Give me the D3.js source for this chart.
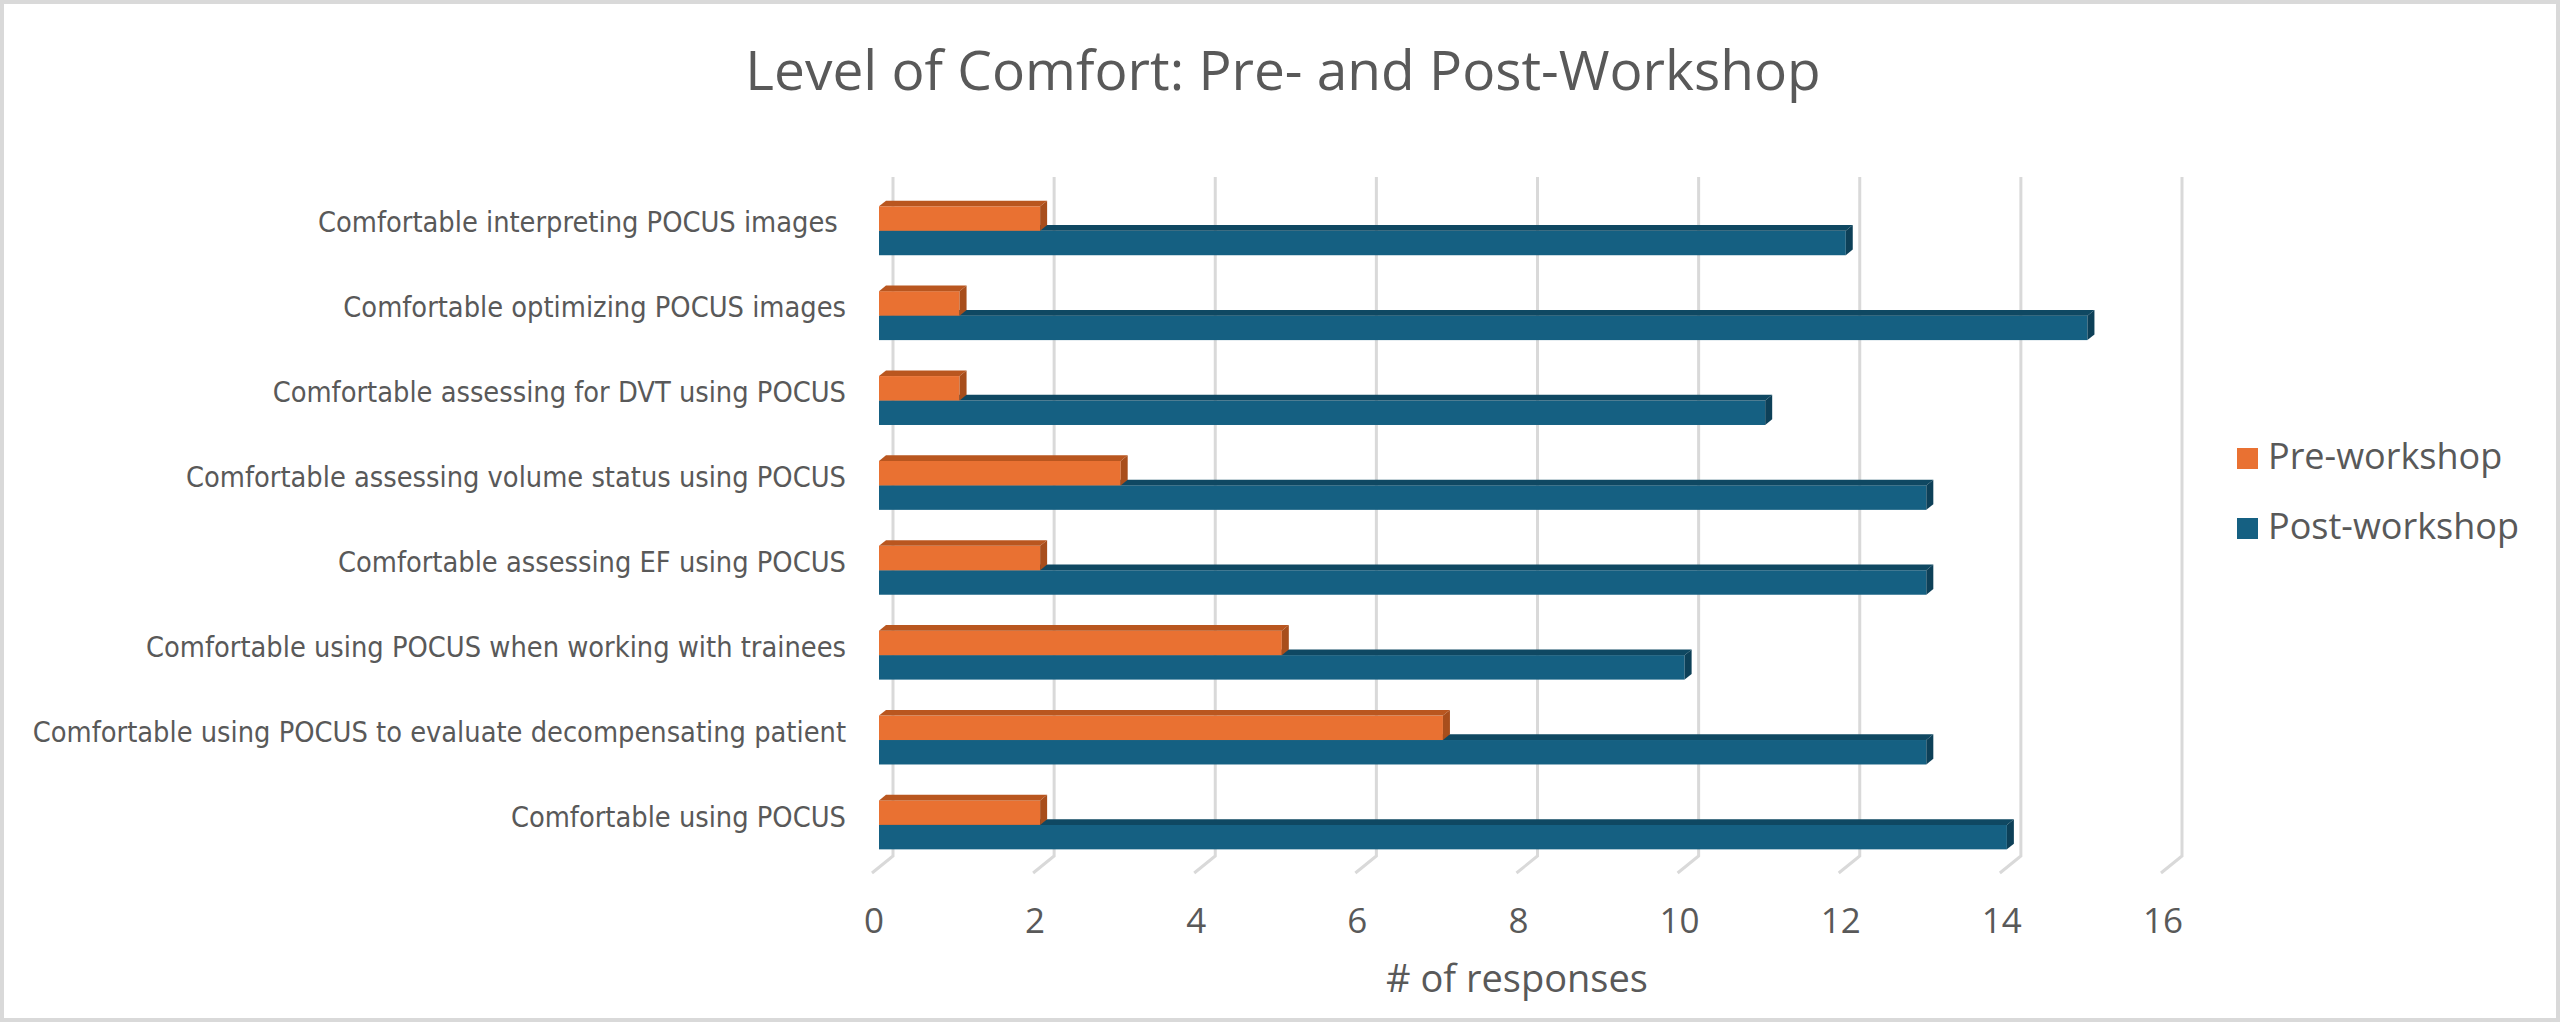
<!DOCTYPE html>
<html>
<head>
<meta charset="utf-8">
<script src="https://cdn.jsdelivr.net/npm/d3@7"></script>
<style>
  html, body { margin: 0; padding: 0; background: #fff; }
  svg { display: block; }
</style>
</head>
<body>
<svg id="chart" width="2560" height="1022"></svg>
<script>
const categories = [
  "Comfortable interpreting POCUS images ",
  "Comfortable optimizing POCUS images",
  "Comfortable assessing for DVT using POCUS",
  "Comfortable assessing volume status using POCUS",
  "Comfortable assessing EF using POCUS",
  "Comfortable using POCUS when working with trainees",
  "Comfortable using POCUS to evaluate decompensating patient",
  "Comfortable using POCUS"
];
const seriesNames = ["Pre-workshop", "Post-workshop"];
const preValues = [2, 1, 1, 3, 2, 5, 7, 2];
const postValues = [12, 15, 11, 13, 13, 10, 13, 14];
const tickValues = [0, 2, 4, 6, 8, 10, 12, 14, 16];

const title = "Level of Comfort: Pre- and Post-Workshop";
const xTitle = "# of responses";

const svg = d3.select("#chart");
const W = 2560, H = 1022;
const textColor = "#595959";
const gridColor = "#d9d9d9";
const colors = {
  "Pre-workshop":  { front: "#E97132", top: "#B9561F", side: "#A84E1C" },
  "Post-workshop": { front: "#156082", top: "#0F4862", side: "#0D4058" }
};

// Back wall geometry
const wallLeft = 893, wallRight = 2182, wallTop = 177, wallBottom = 856;
// depth vector from back wall to floor front
const depth = { dx: -21, dy: 17 };

const x = d3.scaleLinear().domain([0, 16]).range([wallLeft, wallRight]);
const y0 = d3.scaleBand().domain(categories).range([wallTop, wallBottom]).padding(0);
const y1 = d3.scaleBand().domain(seriesNames).range([0, y0.bandwidth()]).paddingInner(0).paddingOuter(0.735);

// background + border
svg.append("rect").attr("x", 0).attr("y", 0).attr("width", W).attr("height", H).attr("fill", "#fff");
svg.append("rect").attr("x", 2).attr("y", 2).attr("width", W - 4).attr("height", H - 4)
  .attr("fill", "none").attr("stroke", gridColor).attr("stroke-width", 4);

// title
svg.append("text").attr("x", 1283).attr("y", 90).attr("text-anchor", "middle")
  .attr("font-family", "'Open Sans', 'Noto Sans', sans-serif").attr("font-size", 55)
  .attr("fill", textColor).text(title);

// gridlines on back wall + floor depth strokes
const grid = svg.append("g");
tickValues.forEach(v => {
  const xb = x(v);
  grid.append("path")
    .attr("d", `M${xb},${wallTop} L${xb},${wallBottom} L${xb + depth.dx},${wallBottom + depth.dy}`)
    .attr("fill", "none").attr("stroke", gridColor).attr("stroke-width", 3)
    .attr("stroke-linejoin", "miter");
});

// tick labels (front edge of floor)
svg.append("g").selectAll("text").data(tickValues).join("text")
  .attr("x", d => x(d) + depth.dx + 2)
  .attr("y", 933)
  .attr("text-anchor", "middle")
  .attr("font-family", "'Open Sans', 'Noto Sans', sans-serif").attr("font-size", 35)
  .attr("fill", textColor)
  .text(d => d);

// axis title
svg.append("text").attr("x", 1517).attr("y", 992).attr("text-anchor", "middle")
  .attr("font-family", "'Open Sans', 'Noto Sans', sans-serif").attr("font-size", 38)
  .attr("fill", textColor).text(xTitle);

// category labels
svg.append("g").selectAll("text").data(categories).join("text")
  .attr("x", 846)
  .attr("y", d => y0(d) + y0.bandwidth() / 2 + 13)
  .attr("text-anchor", "end")
  .attr("style", "white-space: pre")
  .attr("font-family", "'Liberation Sans Narrow', 'DejaVu Sans Condensed', 'Roboto Condensed', sans-serif")
  .attr("font-size", 28.7)
  .attr("fill", textColor)
  .text(d => d);

// bars: front plane at 2/3 depth, back plane at 1/3 depth
const fOff = { dx: depth.dx * 2 / 3, dy: depth.dy * 2 / 3 };
const bOff = { dx: depth.dx / 3, dy: depth.dy / 3 };
const bd = { dx: bOff.dx - fOff.dx, dy: bOff.dy - fOff.dy }; // front->back

const rows = categories.map((c, i) => ({ cat: c, values: [
  { s: "Post-workshop", v: postValues[i] },
  { s: "Pre-workshop", v: preValues[i] }
]}));

const barsG = svg.append("g");
rows.forEach(r => {
  r.values.forEach(d => {
    const col = colors[d.s];
    const x0 = x(0) + fOff.dx, x1 = x(d.v) + fOff.dx;
    const yt = y0(r.cat) + y1(d.s) + fOff.dy;
    const h = y1.bandwidth();
    const g = barsG.append("g");
    // front face
    g.append("rect").attr("x", x0).attr("y", yt).attr("width", x1 - x0).attr("height", h).attr("fill", col.front);
    // top face
    g.append("path").attr("d",
      `M${x0},${yt} L${x1},${yt} L${x1 + bd.dx},${yt + bd.dy} L${x0 + bd.dx},${yt + bd.dy} Z`)
      .attr("fill", col.top);
    // side face
    g.append("path").attr("d",
      `M${x1},${yt} L${x1 + bd.dx},${yt + bd.dy} L${x1 + bd.dx},${yt + h + bd.dy} L${x1},${yt + h} Z`)
      .attr("fill", col.side);
  });
});

// legend
const legend = svg.append("g");
const legendY = [448, 518];
seriesNames.forEach((s, i) => {
  legend.append("rect").attr("x", 2237).attr("y", legendY[i]).attr("width", 21).attr("height", 21)
    .attr("fill", colors[s].front);
  legend.append("text").attr("x", 2268).attr("y", legendY[i] + 21)
    .attr("font-family", "'Open Sans', 'Noto Sans', sans-serif").attr("font-size", 36)
    .attr("fill", textColor).text(s);
});
</script>
</body>
</html>
